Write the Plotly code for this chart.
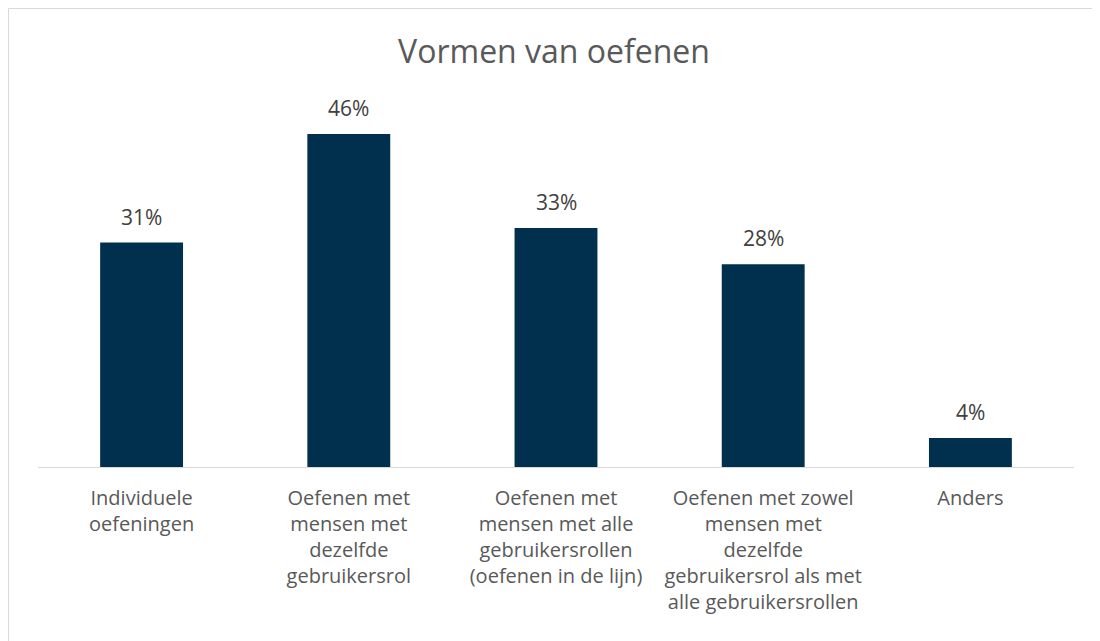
import plotly.graph_objects as go

categories = [
    "Individuele<br>oefeningen",
    "Oefenen met<br>mensen met<br>dezelfde<br>gebruikersrol",
    "Oefenen met<br>mensen met alle<br>gebruikersrollen<br>(oefenen in de lijn)",
    "Oefenen met zowel<br>mensen met<br>dezelfde<br>gebruikersrol als met<br>alle gebruikersrollen",
    "Anders",
]
shares = [0.31, 0.46, 0.33, 0.28, 0.04]

# page has an 8px body margin, so the figure is sized to fit inside it
W, H = 1092, 633
L, R, T, B = 30, 25.5, 97, 174
pw, ph = W - L - R, H - T - B
FONT = "Open Sans"

fig = go.Figure(go.Bar(
    x=categories,
    y=shares,
    width=0.4,
    marker=dict(color="#01304E", line=dict(width=0)),
    hoverinfo="skip",
))

# data labels above each bar
for cat, val in zip(categories, shares):
    fig.add_annotation(
        x=cat, y=val, text=f"{val:.0%}", showarrow=False,
        yanchor="middle", yshift=26,
        font=dict(family=FONT, size=21, color="#404040"),
    )

# light frame on the top and left edge (chart area border)
def px_x(v):
    return (v - L) / pw

def px_y(v):
    return (H - B - v) / ph

frame = dict(color="#D9D9D9", width=1)
fig.add_shape(type="line", xref="paper", yref="paper",
              x0=px_x(0.5), x1=px_x(W), y0=px_y(0.5), y1=px_y(0.5), line=frame)
fig.add_shape(type="line", xref="paper", yref="paper",
              x0=px_x(0.5), x1=px_x(0.5), y0=px_y(0.5), y1=px_y(H), line=frame)

fig.update_layout(
    width=W, height=H,
    margin=dict(l=L, r=R, t=T, b=B),
    paper_bgcolor="white", plot_bgcolor="white",
    title=dict(text="Vormen van oefenen", x=0.5, xanchor="center",
               y=1 - 44 / H, yanchor="middle",
               font=dict(family=FONT, size=32, color="#595959")),
    xaxis=dict(
        showline=True, linecolor="#D9D9D9", linewidth=1,
        ticks="", showgrid=False, ticklabelstandoff=13,
        tickfont=dict(family=FONT, size=20, color="#595959"),
    ),
    yaxis=dict(range=[0, 0.5], visible=False, showgrid=False),
    showlegend=False,
    font=dict(family=FONT),
)

fig.write_html("out.html")
